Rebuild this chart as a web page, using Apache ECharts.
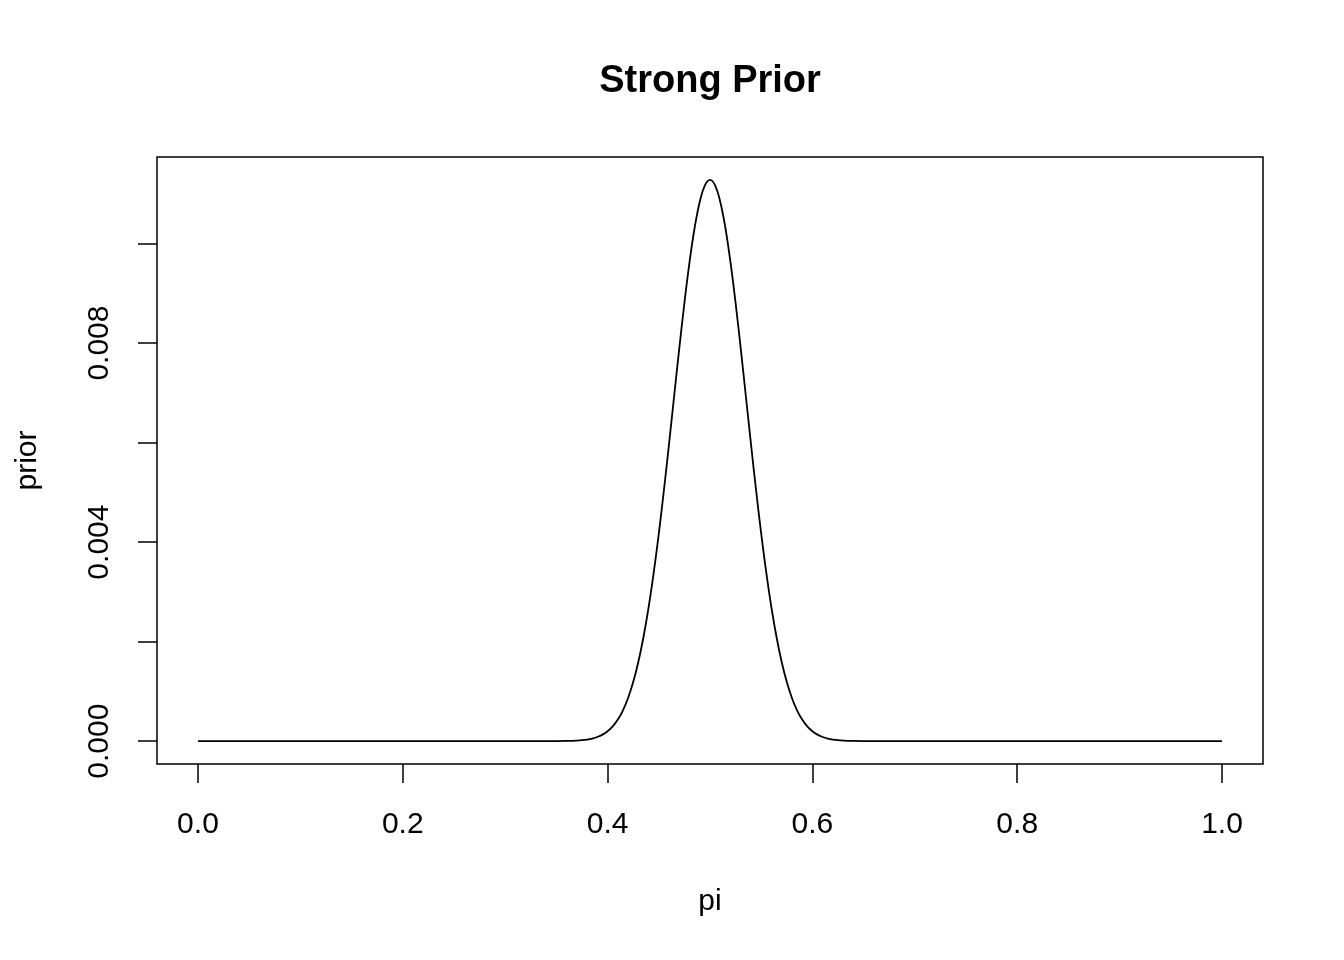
<!DOCTYPE html>
<html>
<head>
<meta charset="utf-8">
<script src="https://cdn.jsdelivr.net/npm/echarts@6/dist/echarts.min.js"></script>
<style>
  html, body { margin: 0; padding: 0; background: #fff; }
  #chart { width: 1344px; height: 960px; }
</style>
</head>
<body>
<div id="chart"></div>
<script>
// values: pi grid and prior height
const piValues = [
  0, 0.1, 0.2, 0.3, 0.35, 0.36, 0.37,
  0.375, 0.38, 0.385, 0.39, 0.395, 0.4, 0.405, 0.41, 0.415, 0.42, 0.425,
  0.43, 0.435, 0.44, 0.445, 0.45, 0.455, 0.46, 0.465, 0.47, 0.475, 0.48,
  0.485, 0.49, 0.495, 0.5,
  0.505, 0.51, 0.515, 0.52, 0.525, 0.53, 0.535, 0.54, 0.545, 0.55, 0.555,
  0.56, 0.565, 0.57, 0.575, 0.58, 0.585, 0.59, 0.595, 0.6, 0.605, 0.61,
  0.615, 0.62, 0.625,
  0.63, 0.64, 0.65, 0.7, 0.8, 0.9, 1.0
];
const priorValues = [
  0, 0, 0, 0, 0.000001, 0.0000035, 0.000011,
  0.0000189, 0.0000317, 0.0000519, 0.0000831, 0.000130, 0.000198, 0.000296,
  0.000433, 0.000619, 0.000866, 0.001186, 0.001589, 0.002087, 0.002683,
  0.003380, 0.004170, 0.005042, 0.005974, 0.006936, 0.007893, 0.008804,
  0.009626, 0.010318, 0.010842, 0.011169, 0.01128,
  0.011169, 0.010842, 0.010318, 0.009626, 0.008804, 0.007893, 0.006936,
  0.005974, 0.005042, 0.004170, 0.003380, 0.002683, 0.002087, 0.001589,
  0.001186, 0.000866, 0.000619, 0.000433, 0.000296, 0.000198, 0.000130,
  0.0000831, 0.0000519, 0.0000317, 0.0000189,
  0.000011, 0.0000035, 0.000001, 0, 0, 0, 0
];
const xTicks = [0, 0.2, 0.4, 0.6, 0.8, 1.0];
const yTicks = [0, 0.002, 0.004, 0.006, 0.008, 0.010];
const yLabels = [0, 0.004, 0.008];

const FONT = '"Liberation Sans", Arial, Helvetica, sans-serif';

const chart = echarts.init(document.getElementById('chart'));

const option = {
  animation: false,
  backgroundColor: '#ffffff',
  title: {
    text: 'Strong Prior',
    left: 705,
    top: 58,
    textAlign: 'center',
    textStyle: { fontFamily: FONT, fontSize: 38, fontWeight: 'bold', color: '#000' }
  },
  grid: {
    left: 157,
    top: 157,
    width: 1106,
    height: 607,
    show: true,
    borderColor: '#000',
    borderWidth: 1.5,
    backgroundColor: 'transparent'
  },
  xAxis: {
    type: 'value',
    min: -0.04,
    max: 1.04,
    name: 'pi',
    nameLocation: 'middle',
    nameGap: 138,
    nameTextStyle: { fontFamily: FONT, fontSize: 30, color: '#000', verticalAlign: 'middle' },
    axisLine: { show: false, onZero: false },
    splitLine: { show: false },
    axisTick: {
      show: true, inside: false, length: 19,
      customValues: xTicks,
      lineStyle: { color: '#000', width: 1.5 }
    },
    axisLabel: {
      customValues: xTicks,
      margin: 61,
      verticalAlign: 'middle',
      fontFamily: FONT, fontSize: 30, color: '#000',
      formatter: v => v.toFixed(1)
    }
  },
  yAxis: {
    type: 'value',
    min: -0.00046,
    max: 0.01174,
    name: 'prior',
    nameLocation: 'middle',
    nameGap: 129,
    nameRotate: 90,
    nameTextStyle: { fontFamily: FONT, fontSize: 30, color: '#000', verticalAlign: 'middle' },
    axisLine: { show: false, onZero: false },
    splitLine: { show: false },
    axisTick: {
      show: true, inside: false, length: 19,
      customValues: yTicks,
      lineStyle: { color: '#000', width: 1.5 }
    },
    axisLabel: {
      customValues: yLabels,
      rotate: 90,
      margin: 57,
      align: 'center',
      verticalAlign: 'middle',
      fontFamily: FONT, fontSize: 30, color: '#000',
      formatter: v => v.toFixed(3)
    }
  },
  series: [{
    type: 'line',
    data: piValues.map((p, i) => [p, priorValues[i]]),
    showSymbol: false,
    smooth: 0.4,
    lineStyle: { color: '#000', width: 1.8 }
  }]
};

chart.setOption(option);
</script>
</body>
</html>
